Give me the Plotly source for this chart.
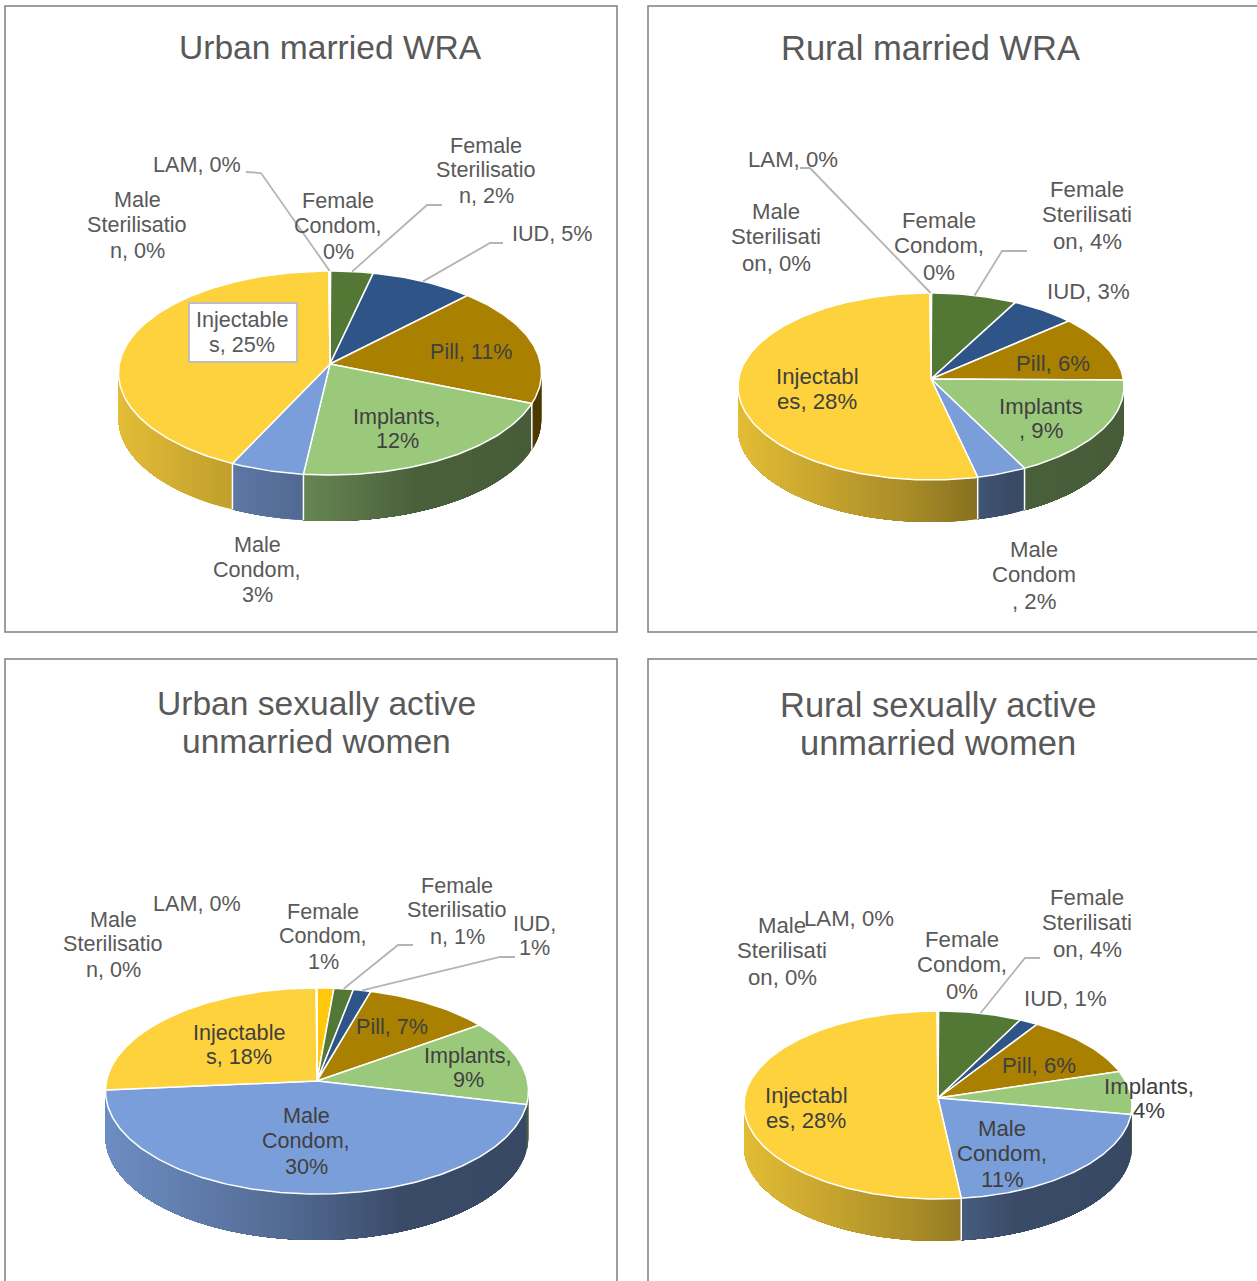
import numpy as np
import plotly.graph_objects as go

# ---- data ----
categories = ["Female Condom", "Female Sterilisation", "IUD", "Pill", "Implants",
              "Male Condom", "Injectables", "Male Sterilisation", "LAM"]
urban_married = [0.03, 2.05, 5.0, 11.0, 12.0, 3.0, 24.9, 0.02, 0.03]
rural_married = [0.03, 4.0, 3.0, 6.0, 9.0, 2.0, 27.7, 0.02, 0.03]
urban_unmarried = [0.95, 1.1, 1.0, 7.2, 9.1, 30.4, 17.8, 0.02, 0.02]
rural_unmarried = [0.03, 4.0, 0.9, 6.0, 4.0, 11.0, 27.8, 0.02, 0.02]

titles = [["Urban married WRA"], ["Rural married WRA"],
          ["Urban sexually active", "unmarried women"],
          ["Rural sexually active", "unmarried women"]]

# ---- style ----
slice_colors = ["#FFC80A", "#537735", "#2F5588", "#A98000", "#9BC97C", "#7A9ED9",
                "#FDD23C", "#4472C4", "#ED7D31"]
wall_stops = [(0, .90), (.27, .76), (.44, .67), (.62, .54), (.70, .48), (1, .46)]

# apex x, apex y, left, right, top, bottom, wall depth
geometry = [(330, 364, 118, 541, 271, 475, 46),
            (931, 379, 737, 1123, 293, 480, 42),
            (317, 1081, 105, 528, 988, 1194, 46),
            (938, 1098, 744, 1132, 1011, 1199, 42)]
panels = [(5, 6, 617, 632), (648, 6, 1275, 632), (5, 659, 617, 1295), (648, 659, 1275, 1295)]
title_pos = [(330, [47]), (930, [48]), (316, [703, 741]), (938, [705, 743])]
title_size = [33.6, 34.5, 33.6, 34.5]
label_size = [21.6, 22.2, 21.6, 22.2]
label_dy = -0.8

# label text lines, centre x, centre y of each line
labels = [
    [(["LAM, 0%"], 197, [165]), (["Male", "Sterilisatio", "n, 0%"], 137, [200, 225, 251]),
     (["Female", "Condom,", "0%"], 338, [201, 226, 252]),
     (["Female", "Sterilisatio", "n, 2%"], 486, [146, 170, 196]), (["IUD, 5%"], 552, [234]),
     (["Pill, 11%"], 471, [352]), (["Implants,", "12%"], 397, [417, 441]),
     (["Injectable", "s, 25%"], 242, [320, 345]), (["Male", "Condom,", "3%"], 257, [545, 570, 595])],
    [(["LAM, 0%"], 793, [160]), (["Male", "Sterilisati", "on, 0%"], 776, [212, 237, 264]),
     (["Female", "Condom,", "0%"], 939, [221, 246, 273]),
     (["Female", "Sterilisati", "on, 4%"], 1087, [190, 215, 242]), (["IUD, 3%"], 1088, [292]),
     (["Pill, 6%"], 1053, [364]), (["Implants", ", 9%"], 1041, [407, 431]),
     (["Injectabl", "es, 28%"], 817, [377, 402]), (["Male", "Condom", ", 2%"], 1034, [550, 575, 602])],
    [(["LAM, 0%"], 197, [904]), (["Male", "Sterilisatio", "n, 0%"], 113, [920, 944, 970]),
     (["Female", "Condom,", "1%"], 323, [912, 936, 962]),
     (["Female", "Sterilisatio", "n, 1%"], 457, [886, 910, 937]), (["IUD,", "1%"], 534, [924, 948]),
     (["Pill, 7%"], 392, [1027]), (["Implants,", "9%"], 468, [1056, 1080]),
     (["Injectable", "s, 18%"], 239, [1033, 1057]), (["Male", "Condom,", "30%"], 306, [1116, 1141, 1167])],
    [(["LAM, 0%"], 849, [919]), (["Male", "Sterilisati", "on, 0%"], 782, [926, 951, 978]),
     (["Female", "Condom,", "0%"], 962, [940, 965, 992]),
     (["Female", "Sterilisati", "on, 4%"], 1087, [898, 923, 950]), (["IUD, 1%"], 1065, [999]),
     (["Pill, 6%"], 1039, [1066]), (["Implants,", "4%"], 1149, [1087, 1111]),
     (["Injectabl", "es, 28%"], 806, [1096, 1121]), (["Male", "Condom,", "11%"], 1002, [1129, 1154, 1180])],
]
# leader lines: (slice index, [elbow points])
leaders = [
    [(8, [(246, 172), (261, 173)]), (1, [(442, 205), (427, 205)]), (2, [(503, 243), (490, 243)])],
    [(8, [(800, 168), (810, 168)]), (1, [(1027, 251), (1002, 251)])],
    [(1, [(413, 945), (398, 945)]), (2, [(515, 957), (500, 957)])],
    [(1, [(1040, 958), (1025, 958)])],
]
box = (189, 303, 297, 362)
FONT = "Liberation Sans, Arial, sans-serif"


def make_projection(g):
    cx, cy, left, right, top, bottom, _ = g
    up, down = cy - top, bottom - cy
    k = (down - up) / (down + up)
    b = up * (1 + k)
    a = (right - left) / 2 * np.sqrt(1 - k * k)

    def proj(t):
        t = np.asarray(t, float)
        w = 1 + k * np.cos(t)
        return cx + a * np.sin(t) / w, cy - b * np.cos(t) / w
    return proj, k


def wall_color(hexcol, frac):
    f = np.interp(frac, [s[0] for s in wall_stops], [s[1] for s in wall_stops])
    rgb = [int(hexcol[i:i + 2], 16) for i in (1, 3, 5)]
    return "rgb(%d,%d,%d)" % tuple(int(c * f) for c in rgb)


fig = go.Figure()


def poly(x, y, fill, line="rgba(0,0,0,0)", width=0.0):
    fig.add_trace(go.Scatter(x=x, y=y, mode="lines", fill="toself", fillcolor=fill,
                             line=dict(color=line, width=width), hoverinfo="skip",
                             showlegend=False))


def stroke(x, y, color, width):
    fig.add_trace(go.Scatter(x=x, y=y, mode="lines", line=dict(color=color, width=width),
                             hoverinfo="skip", showlegend=False))


series = [urban_married, rural_married, urban_unmarried, rural_unmarried]
annotations = []


def text(s, x, y, size, color):
    annotations.append(dict(text=s, x=x, y=y, xref="x", yref="y", showarrow=False,
                            xanchor="center", yanchor="middle", align="center",
                            font=dict(family=FONT, size=size, color=color)))


for idx, (vals, g) in enumerate(zip(series, geometry)):
    proj, k = make_projection(g)
    depth = g[6]
    left, right = g[2], g[3]
    v = np.array(vals, float)
    edges = np.concatenate([[0], np.cumsum(v)]) / v.sum() * 2 * np.pi
    t_lo, t_hi = np.arccos(-k), 2 * np.pi - np.arccos(-k)
    # walls, front half only: painter's order, each strip runs to the slice's far end
    for i, col in enumerate(slice_colors):
        a0, a1 = max(edges[i], t_lo), min(edges[i + 1], t_hi)
        if a1 <= a0:
            continue
        n = max(1, int(np.degrees(a1 - a0) / 1.5))
        ts = np.linspace(a0, a1, n + 1)
        for j in range(n):
            tt = np.linspace(ts[j], a1, max(2, (n - j) // 2 + 2))
            x, y = proj(tt)
            xm = proj([(ts[j] + ts[j + 1]) / 2])[0][0]
            c = wall_color(col, (xm - left) / (right - left))
            poly(np.r_[x, x[::-1], x[0]], np.r_[y, y[::-1] + depth, y[0]], c)
    for e in edges[1:-1]:
        if t_lo < e < t_hi:
            x, y = proj([e])
            if abs(x[0] - left) > 4 and abs(x[0] - right) > 4:
                stroke([x[0], x[0]], [y[0], y[0] + depth], "white", 1.5)
    # top face
    for i, col in enumerate(slice_colors):
        ts = np.linspace(edges[i], edges[i + 1], max(3, int(np.degrees(edges[i + 1] - edges[i])) + 2))
        x, y = proj(ts)
        poly(np.r_[g[0], x, g[0]], np.r_[g[1], y, g[1]], col, "white", 1.5)
    # leader lines
    for si, elbow in leaders[idx]:
        ex, ey = proj([(edges[si] + edges[si + 1]) / 2])
        stroke([p[0] for p in elbow] + [ex[0]], [p[1] for p in elbow] + [ey[0]], "#B4B4B4", 1.8)
    # labels
    for lines, x, ys in labels[idx]:
        inside = lines[0].startswith(("Pill", "Implants", "Injectabl")) or \
            (idx >= 2 and lines[0] == "Male" and lines[1].startswith("Condom"))
        if idx == 0 and lines[0].startswith("Injectabl"):
            inside = False
        for s, y in zip(lines, ys):
            text(s, x, y + label_dy, label_size[idx], "#404040" if inside else "#595959")
    for s, y in zip(titles[idx], title_pos[idx][1]):
        text(s, title_pos[idx][0], y, title_size[idx], "#595959")

shapes = [dict(type="rect", x0=p[0], y0=p[1], x1=p[2], y1=p[3], xref="x", yref="y",
               line=dict(color="#7F7F7F", width=1.5), fillcolor="rgba(0,0,0,0)", layer="below")
          for p in panels]
shapes.append(dict(type="rect", x0=box[0], y0=box[1], x1=box[2], y1=box[3], xref="x", yref="y",
                   line=dict(color="#BFBFBF", width=2), fillcolor="white", layer="above"))

fig.update_layout(width=1257, height=1281, margin=dict(l=0, r=0, t=0, b=0),
                  paper_bgcolor="white", plot_bgcolor="white", showlegend=False,
                  xaxis=dict(range=[0, 1257], visible=False, fixedrange=True),
                  yaxis=dict(range=[1281, 0], visible=False, fixedrange=True),
                  shapes=shapes, annotations=annotations)
fig.write_html("out.html", config={"displayModeBar": False},
               post_script="document.body.style.margin='0';document.body.style.overflow='hidden';")
